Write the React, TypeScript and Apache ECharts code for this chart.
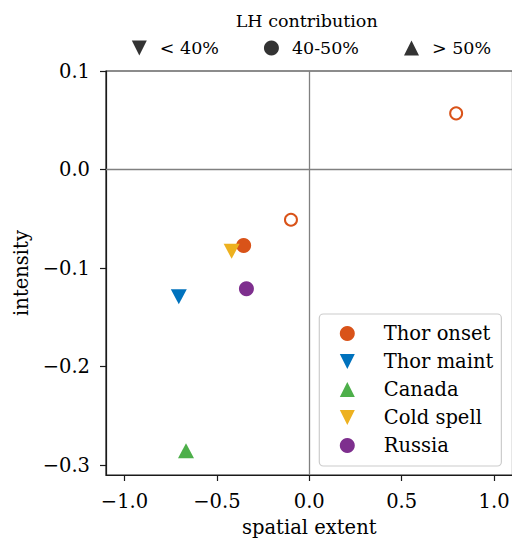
import React, { useEffect, useRef } from 'react';
import * as echarts from 'echarts';

const seriesNames = ['Thor onset', 'Thor maint', 'Canada', 'Cold spell', 'Russia'];
const seriesColors = ['#D95319', '#0072BD', '#4DAF4A', '#EDB120', '#7E2F8E'];
const thorOnset = [[-0.355, -0.077]];
const thorMaint = [[-0.706, -0.129]];
const canada = [[-0.667, -0.2855]];
const coldSpell = [[-0.42, -0.083]];
const russia = [[-0.34, -0.121]];
const thorOnsetOpen = [[0.795, 0.057], [-0.099, -0.051]];
const lhCategories = ['< 40%', '40-50%', '> 50%'];
const xTicks = [-1, -0.5, 0, 0.5, 1];
const yTicks = [-0.3, -0.2, -0.1, 0, 0.1];

const FONT = 'DejaVu Serif';
const DOWN = 'path://M0,0L2,0L1,2Z';
const UP = 'path://M1,0L2,2L0,2Z';
const seriesSymbols = ['circle', DOWN, UP, DOWN, 'circle'];
const lhSymbols = [DOWN, 'circle', UP];
const seriesData = [thorOnset, thorMaint, canada, coldSpell, russia];

const fmt = (v: number) => (v < 0 ? '\u2212' : '') + Math.abs(v).toFixed(1);
const axisColor = '#1a1a1a';

export default function App() {
  const ref = useRef<HTMLDivElement>(null);
  useEffect(() => {
    if (!ref.current) return;
    const chart = echarts.init(ref.current, undefined, { renderer: 'svg' });
    const fs = 19.5;
    const fsTop = 17.5;
    const series: any[] = seriesNames.map((n, i) => ({
      name: n,
      type: 'scatter',
      data: seriesData[i],
      symbol: seriesSymbols[i],
      symbolSize: seriesSymbols[i] === 'circle' ? 15 : [16, 15],
      itemStyle: { color: seriesColors[i], opacity: 1 },
      z: 3,
    }));
    series.unshift({
      name: 'Thor onset (open)',
      type: 'scatter',
      data: thorOnsetOpen,
      symbol: 'circle',
      symbolSize: 12,
      itemStyle: { color: '#ffffff', borderColor: seriesColors[0], borderWidth: 2, opacity: 1 },
      z: 3,
      markLine: {
        silent: true,
        symbol: 'none',
        label: { show: false },
        lineStyle: { color: '#808080', width: 1.3, type: 'solid' },
        data: [{ xAxis: 0 }, { yAxis: 0 }],
        z: 1,
      },
    });
    lhCategories.forEach((n) => {
      series.push({ name: n, type: 'scatter', data: [], itemStyle: { color: '#000' } });
    });
    chart.setOption({
      animation: false,
      title: {
        text: 'LH contribution',
        left: 306.7,
        top: 12,
        textAlign: 'center',
        padding: 0,
        textStyle: { fontFamily: FONT, fontSize: fsTop, fontWeight: 'normal', color: '#000' },
      },
      legend: [
        {
          data: lhCategories.map((n, i) => ({ name: n, icon: lhSymbols[i] })),
          left: 131.8,
          top: 39,
          orient: 'horizontal',
          itemWidth: 15,
          itemHeight: 15,
          itemGap: 45,
          padding: 0,
          selectedMode: false,
          textStyle: { fontFamily: FONT, fontSize: fsTop, color: '#000', padding: [0, 0, 0, 8] },
        },
        {
          data: seriesNames.map((n, i) => ({ name: n, icon: seriesSymbols[i] })),
          left: 319.3,
          top: 314,
          orient: 'vertical',
          itemWidth: 15,
          itemHeight: 15,
          itemGap: 8,
          padding: [9.5, 8, 10.5, 20.5],
          backgroundColor: 'rgba(255,255,255,0.8)',
          borderColor: '#cccccc',
          borderWidth: 1.2,
          borderRadius: 4,
          selectedMode: false,
          textStyle: { fontFamily: FONT, fontSize: fs, color: '#000', padding: [0, 0, 0, 24] },
        },
      ],
      grid: {
        left: 106,
        top: 71,
        width: 406.5,
        height: 404,
        show: true,
        borderColor: axisColor,
        borderWidth: 1.2,
        backgroundColor: 'transparent',
        outerBoundsMode: 'none',
        containLabel: false,
      },
      xAxis: {
        type: 'value',
        min: -1.1,
        max: 1.1,
        name: 'spatial extent',
        nameLocation: 'middle',
        nameGap: 42,
        nameTextStyle: { fontFamily: FONT, fontSize: fs, color: '#000' },
        axisLine: { show: true, onZero: false, lineStyle: { color: axisColor, width: 1.2 } },
        axisTick: { show: true, length: 6, customValues: xTicks, lineStyle: { color: axisColor, width: 1.2 } },
        axisLabel: { customValues: xTicks, formatter: fmt, margin: 16, fontFamily: FONT, fontSize: fs, color: '#000' },
        splitLine: { show: false },
      },
      yAxis: {
        type: 'value',
        min: -0.31,
        max: 0.1,
        name: 'intensity',
        nameLocation: 'middle',
        nameGap: 73,
        nameTextStyle: { fontFamily: FONT, fontSize: fs, color: '#000' },
        axisLine: { show: true, onZero: false, lineStyle: { color: axisColor, width: 1.2 } },
        axisTick: { show: true, length: 6, customValues: yTicks, lineStyle: { color: axisColor, width: 1.2 } },
        axisLabel: { customValues: yTicks, formatter: fmt, margin: 16, fontFamily: FONT, fontSize: fs, color: '#000' },
        splitLine: { show: false },
      },
      series,
    });
    return () => chart.dispose();
  }, []);
  return (
    <div
      ref={ref}
      style={{ position: 'fixed', left: 0, top: 0, width: 512, height: 538, background: '#fff' }}
    />
  );
}
